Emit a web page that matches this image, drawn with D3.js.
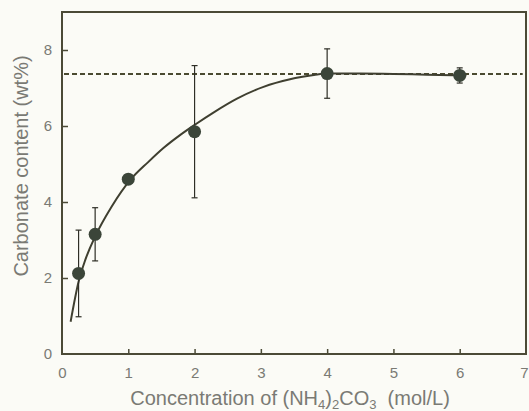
<!DOCTYPE html>
<html>
<head>
<meta charset="utf-8">
<script src="https://cdn.jsdelivr.net/npm/d3@7"></script>
<style>
  html, body { margin: 0; padding: 0; background: #fbfbf6; }
  svg { display: block; font-family: "Liberation Sans", Arial, sans-serif; }
</style>
</head>
<body>
<svg id="chart" width="529" height="411"></svg>
<script>
// measured points (mol/L vs wt%)
var conc = [0.25, 0.5, 1, 2, 4, 6];
var carbonate = [2.12, 3.15, 4.6, 5.85, 7.38, 7.33];
var errBar = [1.14, 0.7, 0, 1.74, 0.65, 0.2];

// fitted curve
var fitX = [0.13, 0.25, 0.35, 0.5, 0.75, 1.03, 1.3, 1.53, 1.78, 2.01, 2.29, 2.64, 3.04, 3.44, 3.8, 4.0, 4.5, 5.0, 5.5, 6.1];
var fitY = [0.85, 1.9, 2.47, 3.09, 3.88, 4.58, 5.05, 5.42, 5.76, 6.04, 6.36, 6.72, 7.03, 7.23, 7.34, 7.38, 7.38, 7.37, 7.35, 7.33];

var plateau = 7.37;
var xTicks = [0, 1, 2, 3, 4, 5, 6, 7];
var yTicks = [0, 2, 4, 6, 8];

var frame = {left: 62, top: 12, right: 526, bottom: 354};
var ink = '#3f3f30';
var labelGrey = '#7a7a74';

var svg = d3.select('#chart');
var x = d3.scaleLinear().domain([0, 7]).range([frame.left, frame.right]);
var y = d3.scaleLinear().domain([0, 9]).range([frame.bottom, frame.top]);

// frame
svg.append('rect')
    .attr('x', frame.left)
    .attr('y', frame.top)
    .attr('width', frame.right - frame.left)
    .attr('height', frame.bottom - frame.top)
    .attr('fill', 'none')
    .attr('stroke', '#4b4a36')
    .attr('stroke-width', 2);

// inward ticks
var xAxis = svg.append('g')
    .attr('transform', 'translate(0,' + frame.bottom + ')')
    .call(d3.axisBottom(x).tickValues(xTicks).tickFormat(d3.format('d'))
        .tickSizeInner(-5).tickSizeOuter(0).tickPadding(13));
var yAxis = svg.append('g')
    .attr('transform', 'translate(' + frame.left + ',0)')
    .call(d3.axisLeft(y).tickValues(yTicks).tickFormat(d3.format('d'))
        .tickSizeInner(-6).tickSizeOuter(0).tickPadding(10));

[xAxis, yAxis].forEach(function (g) {
    g.select('.domain').remove();
    g.selectAll('line').attr('stroke', '#4b4a36').attr('stroke-width', 1.5);
    g.selectAll('text')
        .attr('fill', labelGrey)
        .style('font-size', '15px')
        .style('font-family', '"Liberation Sans", Arial, sans-serif');
});
xAxis.selectAll('line').filter(function (d) { return d === 0 || d === 7; }).remove();
yAxis.selectAll('line').filter(function (d) { return d === 0; }).remove();
xAxis.selectAll('text').filter(function (d) { return d === 7; }).attr('dx', -2);

// dashed plateau
svg.append('line')
    .attr('x1', frame.left + 2)
    .attr('x2', x(6.95))
    .attr('y1', y(plateau))
    .attr('y2', y(plateau))
    .attr('stroke', '#4a4a30')
    .attr('stroke-width', 2)
    .attr('stroke-dasharray', '5,3');

// fitted curve
var line = d3.line()
    .x(function (d) { return x(d[0]); })
    .y(function (d) { return y(d[1]); })
    .curve(d3.curveMonotoneX);
svg.append('path')
    .datum(d3.zip(fitX, fitY))
    .attr('d', line)
    .attr('fill', 'none')
    .attr('stroke', ink)
    .attr('stroke-width', 2);

// error bars
var pts = conc.map(function (c, i) { return {x: c, y: carbonate[i], e: errBar[i]}; });
var eg = svg.append('g').selectAll('g').data(pts.filter(function (d) { return d.e > 0; })).enter().append('g')
    .attr('stroke', '#2e2e26')
    .attr('stroke-width', 1.2);
eg.append('line')
    .attr('x1', function (d) { return x(d.x); })
    .attr('x2', function (d) { return x(d.x); })
    .attr('y1', function (d) { return y(d.y + d.e); })
    .attr('y2', function (d) { return y(d.y - d.e); });
[1, -1].forEach(function (s) {
    eg.append('line')
        .attr('x1', function (d) { return x(d.x) - 3; })
        .attr('x2', function (d) { return x(d.x) + 3; })
        .attr('y1', function (d) { return y(d.y + s * d.e); })
        .attr('y2', function (d) { return y(d.y + s * d.e); });
});

// markers
svg.append('g').selectAll('circle').data(pts).enter().append('circle')
    .attr('cx', function (d) { return x(d.x); })
    .attr('cy', function (d) { return y(d.y); })
    .attr('r', 6.5)
    .attr('fill', '#3b4539');

// axis titles
svg.append('text')
    .attr('transform', 'translate(28,166) rotate(-90)')
    .attr('text-anchor', 'middle')
    .attr('fill', labelGrey)
    .style('font-size', '20px')
    .text('Carbonate content (wt%)');

var xt = svg.append('text')
    .attr('x', 290)
    .attr('y', 405)
    .attr('text-anchor', 'middle')
    .attr('fill', labelGrey)
    .style('font-size', '20px');
xt.append('tspan').text('Concentration of (NH');
xt.append('tspan').attr('dy', 4).style('font-size', '13px').text('4');
xt.append('tspan').attr('dy', -4).text(')');
xt.append('tspan').attr('dy', 4).style('font-size', '13px').text('2');
xt.append('tspan').attr('dy', -4).text('CO');
xt.append('tspan').attr('dy', 4).style('font-size', '13px').text('3');
xt.append('tspan').attr('dy', -4).text('\u00a0\u00a0(mol/L)');
</script>
</body>
</html>
